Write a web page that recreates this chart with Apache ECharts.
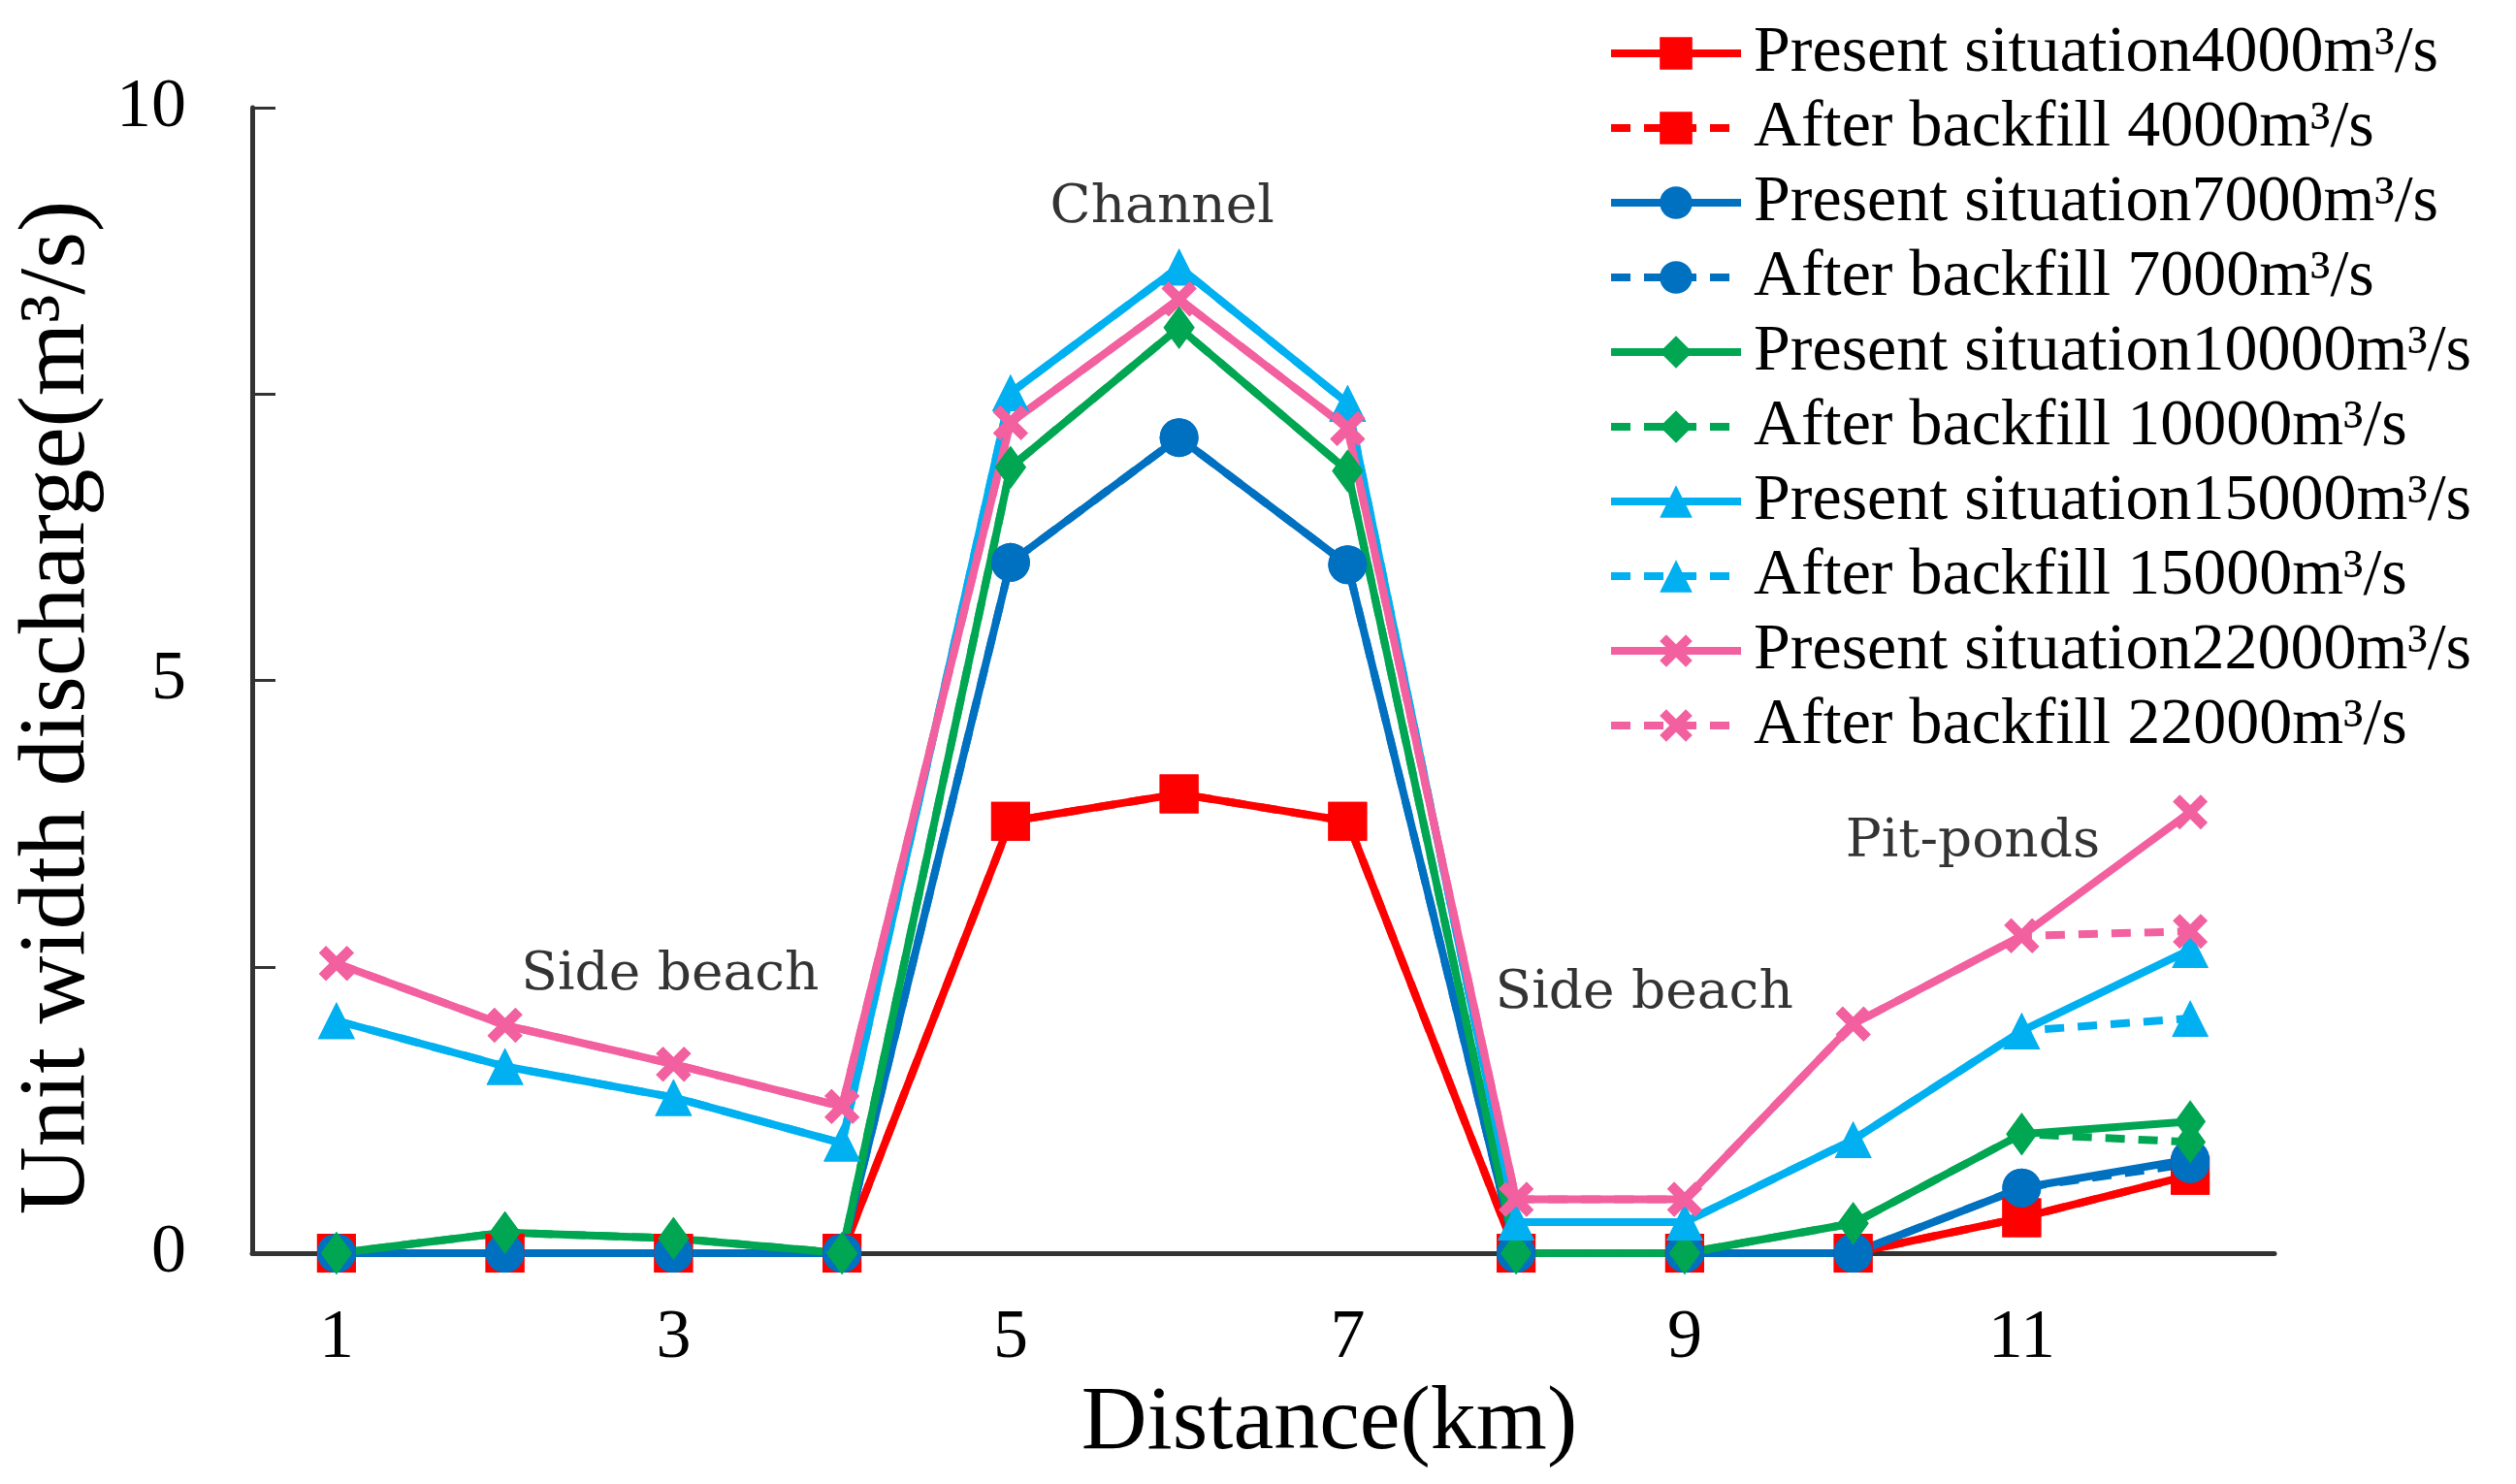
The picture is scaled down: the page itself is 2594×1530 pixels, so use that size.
<!DOCTYPE html>
<html>
<head>
<meta charset="utf-8">
<script src="https://cdn.jsdelivr.net/npm/echarts@6/dist/echarts.min.js"></script>
<style>
  html, body { margin: 0; padding: 0; background: #fff; }
  #chart { width: 2594px; height: 1530px; }
</style>
</head>
<body>
<div id="chart"></div>
<script>
// distance categories (km)
var distance = ['1','2','3','4','5','6','7','8','9','10','11','12'];

// unit width discharge (m3/s)
var present4000  = [0, 0, 0, 0, 3.77, 4.01, 3.77, 0, 0, 0, 0.31, 0.68];
var after4000    = [0, 0, 0, 0, 3.77, 4.01, 3.77, 0, 0, 0, 0.31, 0.68];
var present7000  = [0, 0, 0, 0, 6.03, 7.12, 6.01, 0, 0, 0, 0.57, 0.82];
var after7000    = [0, 0, 0, 0, 6.03, 7.12, 6.01, 0, 0, 0, 0.57, 0.78];
var present10000 = [0, 0.18, 0.13, 0, 6.86, 8.08, 6.83, 0, 0, 0.26, 1.04, 1.15];
var after10000   = [0, 0.18, 0.13, 0, 6.86, 8.08, 6.83, 0, 0, 0.26, 1.04, 0.97];
var present15000 = [2.03, 1.63, 1.36, 0.96, 7.51, 8.61, 7.42, 0.27, 0.27, 0.99, 1.94, 2.65];
var after15000   = [2.03, 1.63, 1.36, 0.96, 7.51, 8.61, 7.42, 0.27, 0.27, 0.99, 1.94, 2.05];
var present22000 = [2.53, 1.99, 1.65, 1.28, 7.25, 8.33, 7.20, 0.47, 0.47, 2.00, 2.77, 3.85];
var after22000   = [2.53, 1.99, 1.65, 1.28, 7.25, 8.33, 7.20, 0.47, 0.47, 2.00, 2.77, 2.81];

var seriesNames = [
  'Present situation4000m³/s', 'After backfill 4000m³/s',
  'Present situation7000m³/s', 'After backfill 7000m³/s',
  'Present situation10000m³/s', 'After backfill 10000m³/s',
  'Present situation15000m³/s', 'After backfill 15000m³/s',
  'Present situation22000m³/s', 'After backfill 22000m³/s'
];

// region labels [x, y, text]
var regionLabels = [
  [5.90, 9.12, 'Channel'],
  [2.98, 2.42, 'Side beach'],
  [8.76, 2.26, 'Side beach'],
  [10.71, 3.58, 'Pit-ponds']
];

var serif = 'Liberation Serif';
var crossPath = 'path://M2,0 L5,3 L8,0 L10,2 L7,5 L10,8 L8,10 L5,7 L2,10 L0,8 L3,5 L0,2 Z';

function lineSeries(name, data, color, symbol, size, dashed) {
  return {
    name: name,
    type: 'line',
    data: data,
    symbol: symbol,
    symbolSize: size,
    color: color,
    itemStyle: { color: color },
    lineStyle: { color: color, width: 8, type: dashed ? [20, 14] : 'solid' },
    emphasis: { disabled: true },
    animation: false
  };
}

var eChart = echarts.init(document.getElementById('chart'));

var option = {
  backgroundColor: '#fff',
  animation: false,
  grid: { left: 260, right: 249, top: 111, bottom: 238, containLabel: false },
  legend: {
    data: seriesNames,
    orient: 'vertical',
    left: 1652,
    top: 16,
    itemWidth: 134,
    itemHeight: 42,
    itemGap: 9,
    selectedMode: false,
    lineStyle: { width: 8 },
    textStyle: {
      fontFamily: serif,
      fontSize: 68,
      color: '#000',
      padding: [0, 0, 0, 8]
    }
  },
  xAxis: [{
    type: 'category',
    data: distance,
    boundaryGap: true,
    name: 'Distance(km)',
    nameLocation: 'middle',
    nameGap: 118,
    nameTextStyle: { fontFamily: serif, fontSize: 94, color: '#000', padding: [0, 0, 0, 136] },
    axisLine: { lineStyle: { color: '#333', width: 5 } },
    axisTick: { inside: true, length: 15, interval: 1, lineStyle: { color: '#333', width: 3 } },
    axisLabel: { interval: 1, margin: 52, fontFamily: serif, fontSize: 72, color: '#000' },
    splitLine: { show: false }
  }, {
    type: 'value',
    min: 0.5,
    max: 12.5,
    show: false
  }],
  yAxis: {
    type: 'value',
    min: 0,
    max: 10,
    interval: 2.5,
    name: 'Unit width discharge(m³/s)',
    nameLocation: 'middle',
    nameGap: 150,
    nameRotate: 90,
    nameTextStyle: { fontFamily: serif, fontSize: 97, color: '#000', padding: [0, 56, 0, 0] },
    axisLine: { show: true, lineStyle: { color: '#333', width: 5 } },
    axisTick: { show: true, inside: true, length: 24, lineStyle: { color: '#333', width: 3 } },
    axisLabel: {
      margin: 68,
      fontFamily: serif,
      fontSize: 72,
      color: '#000',
      formatter: function (v) { return v % 5 === 0 ? String(v) : ''; }
    },
    splitLine: { show: false }
  },
  series: [
    lineSeries(seriesNames[0], present4000, '#FF0000', 'rect', 40, false),
    lineSeries(seriesNames[1], after4000, '#FF0000', 'rect', 40, true),
    lineSeries(seriesNames[2], present7000, '#0070C0', 'circle', 40, false),
    lineSeries(seriesNames[3], after7000, '#0070C0', 'circle', 40, true),
    lineSeries(seriesNames[4], present10000, '#00A651', 'diamond', [32, 44], false),
    lineSeries(seriesNames[5], after10000, '#00A651', 'diamond', [32, 44], true),
    lineSeries(seriesNames[6], present15000, '#00B0F0', 'triangle', 38, false),
    lineSeries(seriesNames[7], after15000, '#00B0F0', 'triangle', 38, true),
    lineSeries(seriesNames[8], present22000, '#F2609F', crossPath, 36, false),
    lineSeries(seriesNames[9], after22000, '#F2609F', crossPath, 36, true),
    {
      name: 'regions',
      type: 'scatter',
      xAxisIndex: 1,
      yAxisIndex: 0,
      symbol: 'circle',
      symbolSize: 2,
      itemStyle: { color: 'rgba(255,255,255,0)' },
      silent: true,
      data: regionLabels.map(function (r) { return { value: [r[0], r[1]], name: r[2] }; }),
      label: {
        show: true,
        position: 'inside',
        formatter: function (p) { return p.name; },
        fontFamily: 'DejaVu Serif',
        fontSize: 55,
        color: '#000'
      },
      labelLayout: { hideOverlap: false },
      animation: false
    }
  ]
};

eChart.setOption(option, true);

window.onresize = function () {
  eChart.resize();
};
</script>
</body>
</html>
